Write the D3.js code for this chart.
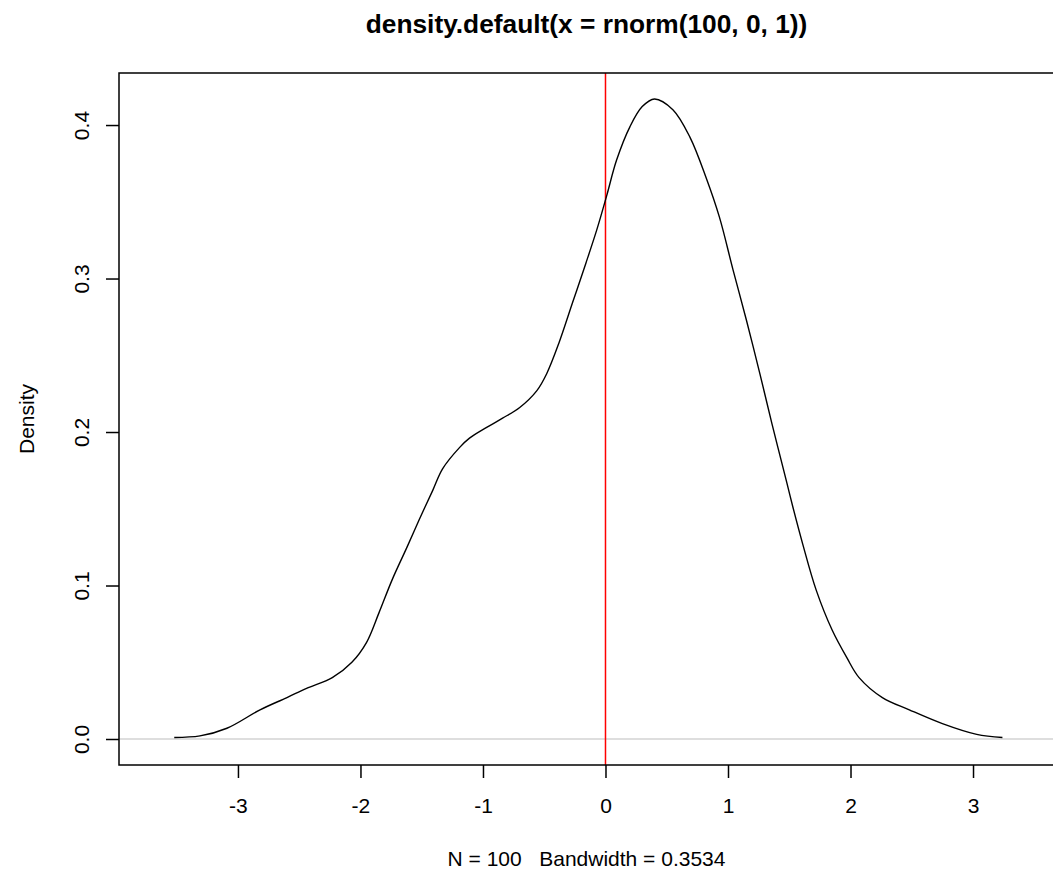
<!DOCTYPE html>
<html>
<head>
<meta charset="utf-8">
<script src="https://cdn.jsdelivr.net/npm/d3@7"></script>
<style>
  body { margin: 0; background: #fff; }
  svg text { font-family: "Liberation Sans", Arial, sans-serif; fill: #000; }
</style>
</head>
<body>
<div id="chart"></div>
<script>
// density estimate
const densX = [-3.52, -3.31, -3.09, -2.82, -2.60, -2.44, -2.23, -2.07, -1.95, -1.85,
               -1.74, -1.62, -1.52, -1.41, -1.33, -1.19, -1.11, -0.97, -0.84, -0.70,
               -0.56, -0.48, -0.38, -0.27, -0.16, -0.07, 0.01, 0.09, 0.20, 0.30,
               0.40, 0.55, 0.69, 0.82, 0.93, 1.04, 1.15, 1.26, 1.36, 1.48,
               1.53, 1.61, 1.72, 1.85, 1.97, 2.07, 2.26, 2.48, 2.75, 3.03, 3.24];
const densY = [0.001, 0.002, 0.007, 0.019, 0.027, 0.033, 0.040, 0.050, 0.063, 0.082,
               0.104, 0.125, 0.143, 0.162, 0.176, 0.190, 0.196, 0.203, 0.209, 0.216,
               0.227, 0.238, 0.258, 0.284, 0.310, 0.332, 0.354, 0.377, 0.399, 0.412,
               0.417, 0.410, 0.392, 0.366, 0.340, 0.306, 0.273, 0.238, 0.205, 0.167,
               0.151, 0.127, 0.097, 0.071, 0.053, 0.040, 0.027, 0.019, 0.010, 0.003, 0.001];
const xTicks = [-3, -2, -1, 0, 1, 2, 3];
const yTicks = [0, 0.1, 0.2, 0.3, 0.4];
const titleText = "density.default(x = rnorm(100, 0, 1))";
const xLabel = "N = 100   Bandwidth = 0.3534";
const yLabel = "Density";

const W = 1053, H = 870;
const plot = {left: 119, right: 1054, top: 73, bottom: 765};

const svg = d3.select("#chart").append("svg")
    .attr("width", W)
    .attr("height", H);

const x = d3.scaleLinear()
    .domain([-3.971, 3.661])
    .range([plot.left, plot.right]);

const y = d3.scaleLinear()
    .domain([-0.01694, 0.4339])
    .range([plot.bottom, plot.top]);

const data = densX.map((v, i) => ({x: v, y: densY[i]}));

// zero line
svg.append("line")
    .attr("x1", plot.left).attr("x2", plot.right)
    .attr("y1", y(0)).attr("y2", y(0))
    .attr("stroke", "#bebebe")
    .attr("stroke-width", 1.2);

// red line at x = 0
svg.append("line")
    .attr("x1", x(0)).attr("x2", x(0))
    .attr("y1", plot.top).attr("y2", plot.bottom)
    .attr("stroke", "#ff0000")
    .attr("stroke-width", 1.5);

// density curve
svg.append("path")
    .datum(data)
    .attr("fill", "none")
    .attr("stroke", "#000")
    .attr("stroke-width", 1.4)
    .attr("d", d3.line()
      .x(d => x(d.x))
      .y(d => y(d.y))
      .curve(d3.curveCatmullRom.alpha(0.5)));

// box
svg.append("rect")
    .attr("x", plot.left).attr("y", plot.top)
    .attr("width", plot.right - plot.left)
    .attr("height", plot.bottom - plot.top)
    .attr("fill", "none")
    .attr("stroke", "#000")
    .attr("stroke-width", 1.5);

// x axis
const xAxis = svg.append("g")
    .attr("transform", `translate(0,${plot.bottom})`)
    .call(d3.axisBottom(x).tickValues(xTicks).tickSize(13).tickFormat(d => String(d)));
xAxis.select(".domain").remove();
xAxis.selectAll(".tick line").attr("stroke", "#000").attr("stroke-width", 1.5);
xAxis.selectAll("text")
    .attr("font-size", "21px")
    .attr("font-family", "Liberation Sans, Arial, sans-serif")
    .attr("dy", null)
    .attr("y", 48);

// y axis
const yAxis = svg.append("g")
    .attr("transform", `translate(${plot.left},0)`)
    .call(d3.axisLeft(y).tickValues(yTicks).tickSize(13).tickFormat(d => d.toFixed(1)));
yAxis.select(".domain").remove();
yAxis.selectAll(".tick line").attr("stroke", "#000").attr("stroke-width", 1.5);
yAxis.selectAll("text")
    .attr("font-size", "21px")
    .attr("font-family", "Liberation Sans, Arial, sans-serif")
    .attr("x", null).attr("dy", null)
    .attr("text-anchor", "middle")
    .attr("transform", "translate(-30,0) rotate(-90)");

// title
svg.append("text")
    .attr("x", (plot.left + plot.right) / 2)
    .attr("y", 33)
    .attr("text-anchor", "middle")
    .attr("font-size", "26.3px")
    .attr("font-weight", "bold")
    .text(titleText);

// x label
svg.append("text")
    .attr("x", (plot.left + plot.right) / 2)
    .attr("y", 866)
    .attr("text-anchor", "middle")
    .attr("font-size", "21px")
    .attr("xml:space", "preserve")
    .style("white-space", "pre")
    .text(xLabel);

// y label
svg.append("text")
    .attr("transform", `translate(34,${(plot.top + plot.bottom) / 2}) rotate(-90)`)
    .attr("text-anchor", "middle")
    .attr("font-size", "21px")
    .text(yLabel);
</script>
</body>
</html>
